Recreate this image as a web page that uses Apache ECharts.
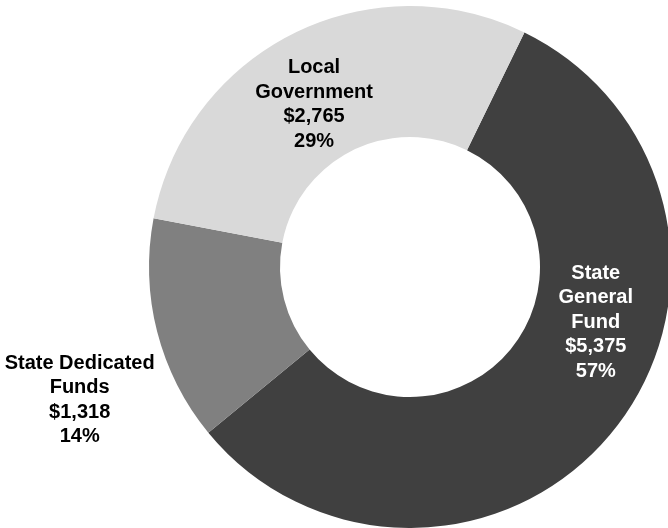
<!DOCTYPE html>
<html>
<head>
<meta charset="utf-8">
<script src="https://cdn.jsdelivr.net/npm/echarts@6/dist/echarts.min.js"></script>
<style>
  html, body { margin: 0; padding: 0; background: #ffffff; }
  #chart { width: 668px; height: 528px; }
</style>
</head>
<body>
<div id="chart"></div>
<script>
// Funding sources (in millions), drawn clockwise from the upper right
const categories = ['State\nGeneral\nFund', 'State Dedicated\nFunds', 'Local\nGovernment'];
const amounts = [5375, 1318, 2765];

// Slice fills and label colours, in the same order as the categories
const sliceColors = ['#404040', '#808080', '#d9d9d9'];
const labelColors = ['#ffffff', '#000000', '#000000'];

// Label nudges from the slice's default inside anchor
const labelShift = [
  { dx: 30, dy: -68 },
  { dx: -138, dy: 84 },
  { dx: -7, dy: 15 }
];

const fmtMoney = v => '$' + v.toLocaleString('en-US');

const chart = echarts.init(document.getElementById('chart'), null, { renderer: 'canvas' });

chart.setOption({
  backgroundColor: '#ffffff',
  animation: false,
  series: [{
    type: 'pie',
    center: [410, 267],
    radius: [130, 261],
    startAngle: 64,
    clockwise: true,
    percentPrecision: 0,
    avoidLabelOverlap: false,
    itemStyle: { borderWidth: 0 },
    emphasis: { disabled: true },
    labelLine: { show: false },
    label: {
      show: true,
      position: 'inside',
      fontFamily: '"Liberation Sans", Arial, sans-serif',
      fontWeight: 'bold',
      fontSize: 20,
      lineHeight: 24.5,
      align: 'center',
      verticalAlign: 'middle',
      formatter: p => p.name + '\n' + fmtMoney(p.value) + '\n' + Math.round(p.percent) + '%'
    },
    labelLayout: params => ({
      dx: labelShift[params.dataIndex].dx,
      dy: labelShift[params.dataIndex].dy
    }),
    data: categories.map((name, i) => ({
      name: name,
      value: amounts[i],
      itemStyle: { color: sliceColors[i] },
      label: { color: labelColors[i] }
    }))
  }]
});
</script>
</body>
</html>
